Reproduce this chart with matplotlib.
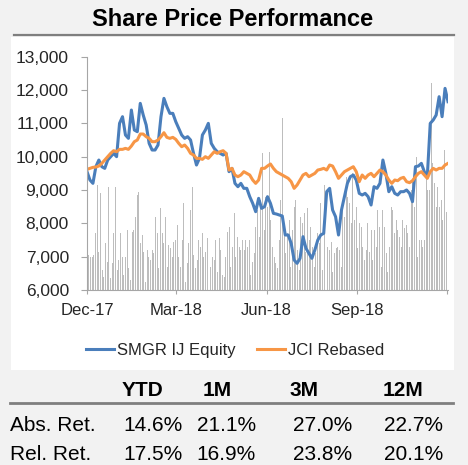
import matplotlib
matplotlib.use("Agg")
import matplotlib.pyplot as plt
import matplotlib.patches as mpatches
import matplotlib.lines as mlines
import pandas as pd

plt.rcParams['font.family'] = ['Liberation Sans', 'DejaVu Sans']

# SMGR share price, sampled every 3 days from 1 Dec 2017
smgr = [9550, 9300, 9200, 9700, 9900, 9700, 9650, 9900, 10000, 10100,
        10000, 11000, 11200, 10650, 10550, 11400, 10800, 10750, 11600, 11250,
        10950, 10400, 10200, 10200, 10350, 11200, 11750, 11500, 11300, 11300,
        11050, 10850, 10650, 10550, 10600, 10500, 10100, 9750, 9950, 10650,
        10800, 11000, 10400, 10250, 10150, 10100, 10050, 10100, 9550, 9650,
        9200, 9100, 9200, 9050, 9050, 8800, 8600, 8350, 8750, 8450,
        8500, 8800, 8600, 8300, 8280, 8250, 8220, 7650, 7650, 7400,
        6900, 6800, 6950, 7600, 7250, 7100, 6950, 7200, 7500, 7650,
        7700, 8950, 9050, 8400, 8200, 7650, 8400, 8800, 9200, 9400,
        9450, 9300, 8900, 8850, 8900, 8800, 8550, 9100, 9050, 9200,
        9900, 9500, 8950, 9100, 8900, 8850, 8950, 8950, 9000, 8900,
        8650, 9700, 9720, 9800, 9550, 9400, 11000, 11100, 11250, 11800,
        11200, 12050, 11650]

# JCI rebased to SMGR
jci = [9620, 9650, 9680, 9690, 9720, 9800, 9900, 10000, 10100, 10180,
       10150, 10220, 10220, 10250, 10220, 10320, 10450, 10500, 10680, 10680,
       10600, 10550, 10450, 10450, 10500, 10600, 10720, 10580, 10550, 10580,
       10520, 10400, 10300, 10350, 10250, 10100, 10050, 9950, 9950, 9920,
       10000, 9950, 10050, 10150, 10100, 10150, 10180, 10100, 9600, 9650,
       9450, 9400, 9450, 9550, 9500, 9450, 9300, 9200, 9300, 9650,
       9650, 9720, 9780, 9650, 9550, 9500, 9450, 9400, 9350, 9250,
       9050, 9150, 9300, 9450, 9500, 9400, 9450, 9500, 9600, 9620,
       9650, 9600, 9750, 9720, 9550, 9350, 9450, 9550, 9600, 9650,
       9700, 9550, 9250, 9450, 9350, 9450, 9500, 9400, 9500, 9600,
       9550, 9450, 9300, 9200, 9300, 9280, 9350, 9380, 9250, 9220,
       9280, 9400, 9500, 9550, 9450, 9350, 9550, 9650, 9600, 9650,
       9650, 9750, 9800]

# daily volume (mn shares)
volume = [1.5, 1.05, 1.0, 1.0, 1.05, 1.7, 3.15, 1.15, 2.9, 0.6,
          0.4, 1.4, 0.85, 3.1, 0.35, 0.8, 1.7, 3.1, 0.6, 0.9,
          1.7, 1.0, 0.45, 1.0, 1.8, 0.65, 0.3, 1.75, 1.8, 2.2,
          2.85, 2.95, 1.4, 1.65, 1.15, 0.25, 1.2, 1.0, 0.9, 1.2,
          1.1, 2.2, 1.7, 0.65, 2.45, 1.7, 1.4, 2.2, 0.7, 1.35,
          1.25, 1.0, 1.45, 1.5, 1.95, 1.0, 0.7, 1.5, 2.6, 0.25,
          0.8, 1.4, 2.4, 3.1, 1.05, 0.65, 0.9, 1.5, 1.3, 1.7,
          1.0, 1.15, 1.55, 1.3, 0.7, 1.0, 0.9, 1.5, 0.55, 1.55,
          1.2, 0.45, 0.4, 1.0, 1.75, 1.9, 0.7, 1.3, 2.3, 1.0,
          1.6, 1.3, 1.2, 1.5, 1.2, 1.5, 1.3, 1.5, 0.45, 0.85,
          1.1, 1.9, 2.4, 1.6, 2.7, 4.1, 1.8, 2.8, 2.5, 4.15,
          2.1, 1.3, 1.0, 0.8, 0.65, 1.5, 2.7, 5.15, 1.9, 1.1,
          1.7, 2.1, 0.7, 1.8, 2.5, 2.7, 1.2, 0.6, 2.2, 2.0,
          2.3, 1.15, 2.45, 1.5, 1.9, 1.3, 0.7, 1.1, 1.7, 1.4,
          2.6, 0.6, 3.15,
          2.35, 1.3, 1.2, 1.45, 0.55, 1.1, 1.25, 1.3, 1.2, 0.7,
          2.5, 2.2, 3.4, 2.8, 2.6, 2.0, 3.5, 2.1, 2.5, 1.25,
          2.0, 1.9, 1.3, 0.9, 1.2, 2.0, 1.15, 1.8, 0.9, 1.8,
          1.3, 2.4, 1.9, 0.7, 2.4, 1.9, 1.1, 0.55, 1.3, 2.5,
          2.4, 1.7, 2.1, 1.8, 1.6, 1.3, 2.1, 1.85, 1.95, 1.7,
          1.3, 3.0, 3.3, 2.5, 4.0, 1.0, 1.5, 1.5, 1.3, 1.5,
          3.4, 3.0, 3.0, 6.2, 3.8, 3.2, 2.5, 3.1, 2.5, 2.7,
          2.1, 4.2, 2.35, 2.85]

tick_dates = ['2017-12-01', '2018-03-01', '2018-06-01', '2018-09-01', '2018-12-01']
tick_labels = ['Dec-17', 'Mar-18', 'Jun-18', 'Sep-18', '']

periods = ['YTD', '1M', '3M', '12M']
abs_ret = ['14.6%', '21.1%', '27.0%', '22.7%']
rel_ret = ['17.5%', '16.9%', '23.8%', '20.1%']

dates = pd.date_range('2017-12-01', periods=len(smgr), freq='3D')
vol_dates = pd.date_range(dates[0], dates[-1], periods=len(volume))

W, H = 468, 465
fig = plt.figure(figsize=(W / 100, H / 100), dpi=100, facecolor='#f2f2f2')


def fx(px):
    return px / W


def fy(py):
    return 1 - py / H


# white chart panel
fig.patches.append(mpatches.Rectangle((fx(11), fy(370)), fx(454) - fx(11), fy(37) - fy(370),
                                      transform=fig.transFigure, facecolor='white',
                                      edgecolor='none', zorder=-5))

fig.text(fx(233), fy(20), 'Share Price Performance', ha='center', va='center',
         fontsize=17, fontweight='bold', color='black')
fig.add_artist(mlines.Line2D([fx(14), fx(454)], [fy(35), fy(35)], color='#7f7f7f',
                             lw=1.6, transform=fig.transFigure))

ax = fig.add_axes([fx(87), fy(290), fx(448) - fx(87), fy(56.7) - fy(290)])
ax2 = ax.twinx()

ax2.bar(vol_dates, volume, width=1.0, color='#bdbdbd', linewidth=0)
ax2.set_ylim(0, 7)
ax2.set_yticks([])
for s in ax2.spines.values():
    s.set_visible(False)
ax2.patch.set_visible(False)

ax.set_zorder(ax2.get_zorder() + 1)
ax.patch.set_visible(False)

ax.plot(dates, smgr, color='#4a7ebb', lw=2.2, label='SMGR IJ Equity')
ax.plot(dates, jci, color='#f79646', lw=2.2, label='JCI Rebased')

ax.set_ylim(6000, 13000)
ax.set_yticks(range(6000, 13001, 1000))
ax.set_yticklabels([f'{v:,}' for v in range(6000, 13001, 1000)])
ax.set_xlim(dates[0], dates[-1])
ax.set_xticks(pd.to_datetime(tick_dates))
ax.set_xticklabels(tick_labels)

for s in ['top', 'right']:
    ax.spines[s].set_visible(False)
for s in ['left', 'bottom']:
    ax.spines[s].set_color('#a6a6a6')
    ax.spines[s].set_linewidth(0.8)
ax.tick_params(axis='y', length=4, width=0.8, color='#a6a6a6', pad=9,
               labelsize=12.5, labelcolor='#262626')
ax.tick_params(axis='x', length=3, width=0.8, color='#a6a6a6', pad=6.5,
               labelsize=12, labelcolor='#262626')

ax.legend(loc='center', bbox_to_anchor=(fx(235), fy(350)), bbox_transform=fig.transFigure,
          ncol=2, frameon=False, fontsize=12, handlelength=1.7, handletextpad=0.15,
          columnspacing=1.3, labelcolor='#262626')

# returns table
head_x = [142, 217, 304, 403]
val_x = [183, 256, 352, 443]
for px, p in zip(head_x, periods):
    fig.text(fx(px), fy(390), p, ha='center', va='center', fontsize=15,
             fontweight='bold', color='black')
fig.add_artist(mlines.Line2D([fx(10), fx(453)], [fy(403), fy(403)], color='#7f7f7f',
                             lw=2.0, transform=fig.transFigure))

for row_y, name, vals in [(425, 'Abs. Ret.', abs_ret), (454, 'Rel. Ret.', rel_ret)]:
    fig.text(fx(10), fy(row_y), name, ha='left', va='center', fontsize=15, color='black')
    for px, v in zip(val_x, vals):
        fig.text(fx(px), fy(row_y), v, ha='right', va='center', fontsize=15, color='black')

fig.savefig('out.png', dpi=100, facecolor=fig.get_facecolor())
